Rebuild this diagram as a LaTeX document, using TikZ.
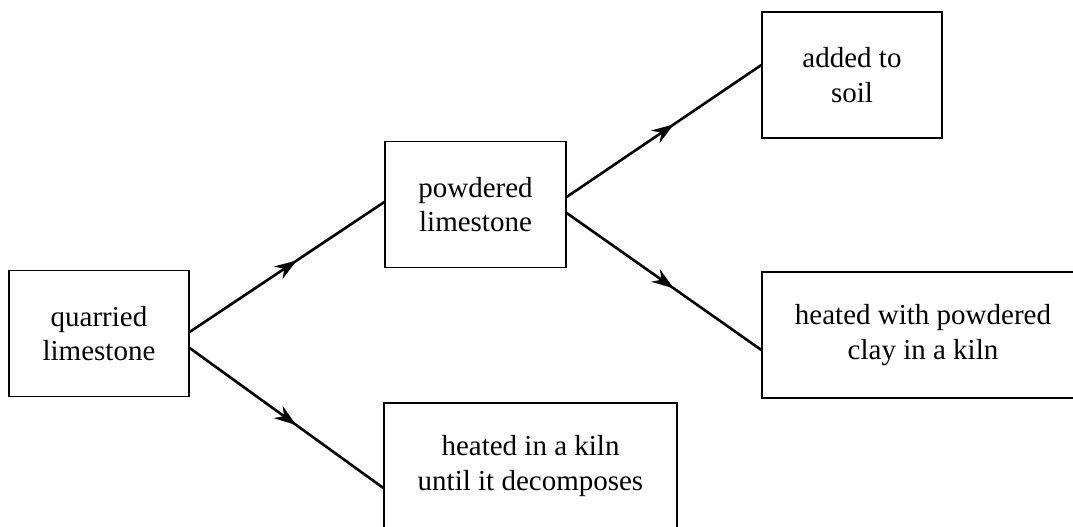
\documentclass[tikz,border=0pt]{standalone}
\usepackage{fontspec}
\setmainfont{Liberation Serif}
\usetikzlibrary{arrows.meta, decorations.markings}

\begin{document}
\begin{tikzpicture}[
    x=1pt, y=1pt,
    stage/.style={draw, line width=1.3pt, rectangle, align=center,
                  minimum height=126pt, font=\fontsize{29}{34.5}\selectfont},
    flow/.style={line width=2.6pt, postaction={decorate},
                 decoration={markings, mark=at position 0.55 with
                 {\arrow{Stealth[length=22pt, width=15pt, inset=7pt]}}}}
]

% ============================================================
% FRAME (1073 x 527, right and bottom boxes run off the edge)
% ============================================================
\clip (0,0) rectangle (1073,527);

% ============================================================
% STAGES
% ============================================================
\node[stage, minimum width=180pt] (quarried) at (99,193.5) {quarried\\limestone};
\node[stage, minimum width=181pt] (powdered) at (475.5,322.5) {powdered\\limestone};
\node[stage, minimum width=180pt] (soil) at (852,452) {added to\\soil};
\node[stage, minimum width=322pt] (clay) at (923,192) {heated with powdered\\clay in a kiln};
\node[stage, minimum width=293pt] (kiln) at (530.5,61) {heated in a kiln\\until it decomposes};

% ============================================================
% CONNECTIONS
% ============================================================
\draw[flow] ([yshift=1.5pt]quarried.east) -- ([yshift=2.5pt]powdered.west);
\draw[flow] ([yshift=-14.5pt]quarried.east) -- ([yshift=-22pt]kiln.west);
\draw[flow] ([yshift=7.5pt]powdered.east) -- ([yshift=10pt]soil.west);
\draw[flow] ([yshift=-8.5pt]powdered.east) -- ([yshift=-15pt]clay.west);

\end{tikzpicture}
\end{document}
